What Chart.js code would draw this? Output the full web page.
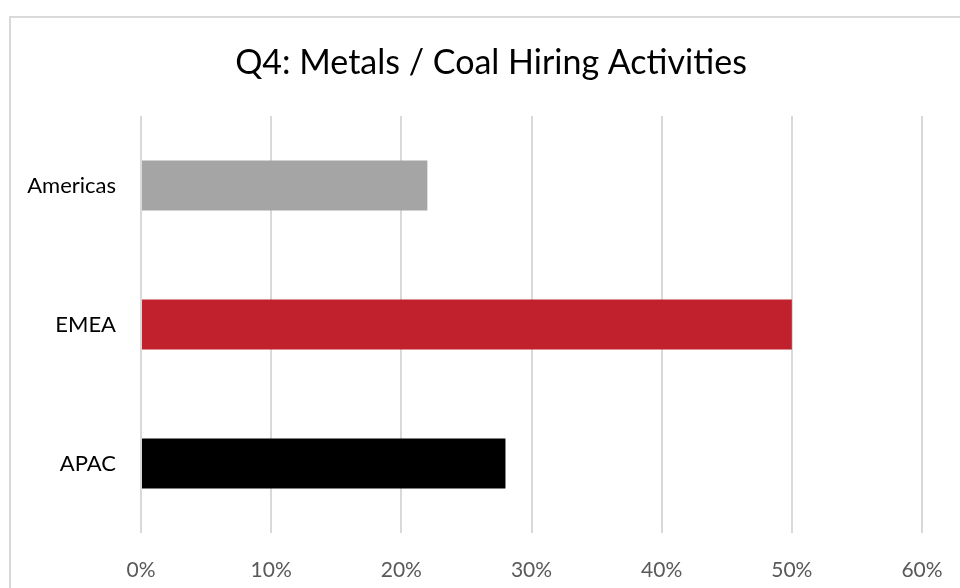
<!DOCTYPE html>
<html>
<head>
<meta charset="utf-8">
<script src="https://cdn.jsdelivr.net/npm/chart.js@4"></script>
<style>
  html, body { margin: 0; padding: 0; background: #fff; overflow: hidden; }
  #wrap { position: relative; width: 960px; height: 588px; overflow: hidden; }
  #frame { position: absolute; left: 9px; top: 16px; width: 1000px; height: 700px; border: 2px solid #d9d9d9; box-sizing: border-box; }
  canvas { position: absolute; left: 0; top: 0; }
</style>
</head>
<body>
<div id="wrap">
  <div id="frame"></div>
  <canvas id="chart" width="982" height="588"></canvas>
</div>
<script>
// data
const titleText = 'Q4: Metals / Coal Hiring Activities';
const regions = ['Americas', 'EMEA', 'APAC'];
const shares = [0.22, 0.50, 0.28];
const barColors = ['#a5a5a5', '#c1202d', '#000000'];
const xTicks = [0, 0.1, 0.2, 0.3, 0.4, 0.5, 0.6];

const font = "Lato, 'Open Sans', sans-serif";

// title is centred on the chart frame, not on the canvas
const frameTitle = {
    id: 'frameTitle',
    afterDraw(chart) {
        const c = chart.ctx;
        c.save();
        c.font = '34px ' + font;
        c.fillStyle = '#000';
        c.textAlign = 'center';
        c.textBaseline = 'middle';
        c.fillText(titleText, 491, 63);
        c.restore();
    }
};

const ctx = document.getElementById('chart');
const myChart = new Chart(ctx, {
    type: 'bar',
    data: {
        labels: regions,
        datasets: [{
            data: shares,
            backgroundColor: barColors,
            borderWidth: 0,
            categoryPercentage: 1,
            barPercentage: 0.36
        }]
    },
    plugins: [frameTitle],
    options: {
        indexAxis: 'y',
        responsive: false,
        animation: false,
        layout: { padding: { left: 0, right: 60, top: 116, bottom: 0 } },
        plugins: {
            legend: { display: false },
            tooltip: { enabled: false },
            title: { display: false }
        },
        scales: {
            x: {
                min: 0,
                max: 0.6,
                afterBuildTicks: (s) => { s.ticks = xTicks.map(v => ({ value: v })); },
                afterFit: (s) => { s.height = 55; },
                grid: { color: '#d9d9d9', lineWidth: 2, drawTicks: false },
                border: { display: false },
                ticks: {
                    color: '#595959',
                    padding: 25,
                    font: { family: font, size: 21 },
                    callback: (v) => Math.round(v * 100) + '%'
                }
            },
            y: {
                afterFit: (s) => { s.width = 141; },
                grid: { display: false },
                border: { display: false },
                ticks: {
                    color: '#000',
                    padding: 17,
                    font: { family: font, size: 22 }
                }
            }
        }
    }
});
</script>
</body>
</html>
